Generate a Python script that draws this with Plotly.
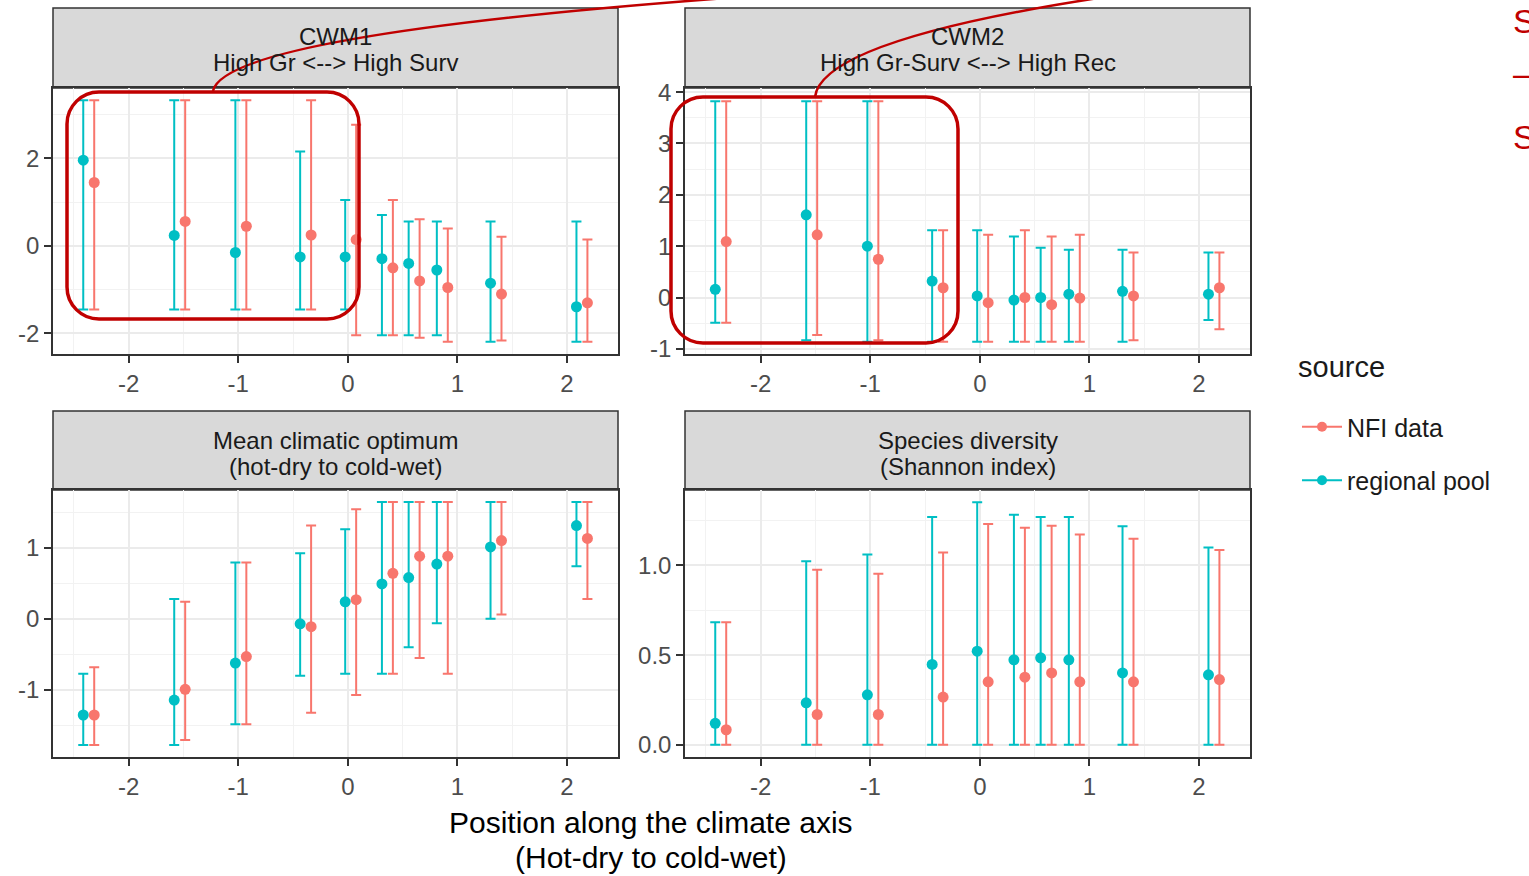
import plotly.graph_objects as go

W, H = 1529, 876

# ---------------- data ----------------
climate_pos = [-2.364, -1.534, -0.976, -0.385, 0.026, 0.361, 0.605, 0.862, 1.352, 2.136]
sources = ["NFI data", "regional pool"]

panel_titles = [
    ["CWM1", "High Gr &lt;--&gt; High Surv"],
    ["CWM2", "High Gr-Surv &lt;--&gt; High Rec"],
    ["Mean climatic optimum", "(hot-dry to cold-wet)"],
    ["Species diversity", "(Shannon index)"],
]

x_tickvals = [-2, -1, 0, 1, 2]
x_ticktext = ["-2", "-1", "0", "1", "2"]

# CWM1
cwm1_reg_mean = [1.96, 0.24, -0.15, -0.25, -0.25, -0.29, -0.40, -0.55, -0.85, -1.39]
cwm1_reg_lo = [-1.45, -1.45, -1.45, -1.45, -1.45, -2.04, -2.04, -2.04, -2.19, -2.19]
cwm1_reg_hi = [3.33, 3.33, 3.33, 2.16, 1.05, 0.71, 0.56, 0.56, 0.56, 0.56]
cwm1_nfi_mean = [1.45, 0.56, 0.45, 0.25, 0.145, -0.50, -0.80, -0.95, -1.10, -1.30]
cwm1_nfi_lo = [-1.45, -1.45, -1.45, -1.45, -2.04, -2.04, -2.10, -2.19, -2.16, -2.19]
cwm1_nfi_hi = [3.33, 3.33, 3.33, 3.33, 2.77, 1.05, 0.61, 0.40, 0.21, 0.15]
cwm1_ticks = [-2, 0, 2]
cwm1_ticktext = ["-2", "0", "2"]

# CWM2
cwm2_reg_mean = [0.16, 1.61, 1.00, 0.32, 0.03, -0.05, 0.00, 0.065, 0.12, 0.065]
cwm2_reg_lo = [-0.49, -0.83, -0.86, -0.86, -0.86, -0.86, -0.86, -0.86, -0.86, -0.44]
cwm2_reg_hi = [3.82, 3.82, 3.82, 1.31, 1.31, 1.19, 0.97, 0.93, 0.93, 0.875]
cwm2_nfi_mean = [1.09, 1.22, 0.745, 0.19, -0.10, 0.0, -0.14, -0.01, 0.03, 0.19]
cwm2_nfi_lo = [-0.49, -0.73, -0.83, -0.86, -0.86, -0.86, -0.86, -0.86, -0.83, -0.62]
cwm2_nfi_hi = [3.82, 3.82, 3.82, 1.31, 1.22, 1.31, 1.19, 1.22, 0.875, 0.875]
cwm2_ticks = [-1, 0, 1, 2, 3, 4]
cwm2_ticktext = ["-1", "0", "1", "2", "3", "4"]

# Mean climatic optimum
opt_reg_mean = [-1.35, -1.14, -0.62, -0.07, 0.24, 0.49, 0.58, 0.77, 1.01, 1.31]
opt_reg_lo = [-1.77, -1.77, -1.48, -0.80, -0.77, -0.77, -0.40, -0.06, 0.0, 0.74]
opt_reg_hi = [-0.77, 0.28, 0.79, 0.92, 1.26, 1.64, 1.64, 1.64, 1.64, 1.64]
opt_nfi_mean = [-1.35, -0.99, -0.53, -0.11, 0.27, 0.64, 0.88, 0.88, 1.10, 1.13]
opt_nfi_lo = [-1.77, -1.70, -1.48, -1.32, -1.07, -0.77, -0.55, -0.77, 0.06, 0.28]
opt_nfi_hi = [-0.68, 0.24, 0.79, 1.31, 1.54, 1.64, 1.64, 1.64, 1.64, 1.64]
opt_ticks = [-1, 0, 1]
opt_ticktext = ["-1", "0", "1"]

# Species diversity
div_reg_mean = [0.12, 0.234, 0.279, 0.448, 0.522, 0.474, 0.485, 0.474, 0.401, 0.39]
div_reg_lo = [0.0] * 10
div_reg_hi = [0.684, 1.024, 1.061, 1.27, 1.353, 1.283, 1.27, 1.27, 1.219, 1.10]
div_nfi_mean = [0.084, 0.169, 0.169, 0.266, 0.351, 0.377, 0.401, 0.351, 0.351, 0.364]
div_nfi_lo = [0.0] * 10
div_nfi_hi = [0.684, 0.976, 0.954, 1.072, 1.232, 1.21, 1.221, 1.173, 1.149, 1.087]
div_ticks = [0.0, 0.5, 1.0]
div_ticktext = ["0.0", "0.5", "1.0"]

x_axis_title = ["Position along the climate axis", "(Hot-dry to cold-wet)"]
legend_title = "source"
side_notes = ["S", "\u2013", "S"]

# ---------------- style ----------------
NFI_COLOR = "#F8766D"
REG_COLOR = "#00BFC4"
RED = "#C00000"
DODGE = 0.05
FONT = "Liberation Sans, Arial, sans-serif"
TICK_SIZE = 24
STRIP_SIZE = 24


def pxx(x):
    return x / W


def pxy(y):
    return 1 - y / H


panels = [
    dict(title=panel_titles[0], xd=(53, 618), yd=(88, 354), strip=(8, 88), lines=(37, 63),
         yrange=[-2.47, 3.61], ticks=cwm1_ticks, ticktext=cwm1_ticktext, minor=[-1, 1, 3],
         reg=(cwm1_reg_mean, cwm1_reg_lo, cwm1_reg_hi), nfi=(cwm1_nfi_mean, cwm1_nfi_lo, cwm1_nfi_hi)),
    dict(title=panel_titles[1], xd=(685, 1250), yd=(88, 354), strip=(8, 88), lines=(37, 63),
         yrange=[-1.10, 4.08], ticks=cwm2_ticks, ticktext=cwm2_ticktext,
         minor=[-0.5, 0.5, 1.5, 2.5, 3.5],
         reg=(cwm2_reg_mean, cwm2_reg_lo, cwm2_reg_hi), nfi=(cwm2_nfi_mean, cwm2_nfi_lo, cwm2_nfi_hi)),
    dict(title=panel_titles[2], xd=(53, 618), yd=(490, 757), strip=(411, 490), lines=(440, 466),
         yrange=[-1.94, 1.81], ticks=opt_ticks, ticktext=opt_ticktext, minor=[-1.5, -0.5, 0.5, 1.5],
         reg=(opt_reg_mean, opt_reg_lo, opt_reg_hi), nfi=(opt_nfi_mean, opt_nfi_lo, opt_nfi_hi)),
    dict(title=panel_titles[3], xd=(685, 1250), yd=(490, 757), strip=(411, 490), lines=(440, 466),
         yrange=[-0.068, 1.421], ticks=div_ticks, ticktext=div_ticktext, minor=[0.25, 0.75, 1.25],
         reg=(div_reg_mean, div_reg_lo, div_reg_hi), nfi=(div_nfi_mean, div_nfi_lo, div_nfi_hi)),
]

fig = go.Figure()
layout = dict(
    width=W, height=H,
    margin=dict(l=0, r=0, t=0, b=0, pad=0),
    paper_bgcolor="white", plot_bgcolor="white",
    font=dict(family=FONT, color="#1A1A1A"),
    showlegend=True,
)

shapes = []
annotations = []

for i, p in enumerate(panels):
    n = "" if i == 0 else str(i + 1)
    xa, ya = "x" + n, "y" + n
    for src, (mean, lo, hi), color, off in [
        (sources[0], p["nfi"], NFI_COLOR, DODGE),
        (sources[1], p["reg"], REG_COLOR, -DODGE),
    ]:
        fig.add_trace(go.Scatter(
            x=[c + off for c in climate_pos], y=mean,
            mode="markers", name=src, showlegend=False,
            marker=dict(color=color, size=11),
            error_y=dict(type="data", symmetric=False,
                         array=[h - m for h, m in zip(hi, mean)],
                         arrayminus=[m - l for m, l in zip(mean, lo)],
                         color=color, thickness=2, width=5),
            xaxis=xa, yaxis=ya, cliponaxis=False,
        ))
    axis_common = dict(
        showline=True, mirror=True, linecolor="#333333", linewidth=1.5,
        ticks="outside", ticklen=7, tickwidth=1.5, tickcolor="#333333",
        tickfont=dict(size=TICK_SIZE, color="#4D4D4D", family=FONT),
        showgrid=True, gridcolor="#EBEBEB", gridwidth=2, zeroline=False,
        automargin=False, tickmode="array",
    )
    layout["xaxis" + n] = dict(
        axis_common, domain=[pxx(p["xd"][0]), pxx(p["xd"][1])], range=[-2.69, 2.465],
        tickvals=x_tickvals, ticktext=x_ticktext, anchor=ya,
        minor=dict(tickmode="array", tickvals=[-2.5, -1.5, -0.5, 0.5, 1.5],
                   showgrid=True, gridcolor="#F2F2F2", gridwidth=1, ticks=""),
    )
    layout["yaxis" + n] = dict(
        axis_common, domain=[pxy(p["yd"][1]), pxy(p["yd"][0])], range=p["yrange"],
        tickvals=p["ticks"], ticktext=p["ticktext"], anchor=xa,
        minor=dict(tickmode="array", tickvals=p["minor"],
                   showgrid=True, gridcolor="#F2F2F2", gridwidth=1, ticks=""),
    )
    # strip
    shapes.append(dict(type="rect", xref="paper", yref="paper",
                       x0=pxx(p["xd"][0]), x1=pxx(p["xd"][1]),
                       y0=pxy(p["strip"][1]), y1=pxy(p["strip"][0]),
                       fillcolor="#D9D9D9", line=dict(color="#333333", width=1.5), layer="below"))
    for line_text, yc in zip(p["title"], p["lines"]):
        annotations.append(dict(xref="paper", yref="paper",
                                x=pxx((p["xd"][0] + p["xd"][1]) / 2), y=pxy(yc),
                                text=line_text, showarrow=False, xanchor="center", yanchor="middle",
                                font=dict(size=STRIP_SIZE, color="#1A1A1A", family=FONT)))

# legend entries (line + point key)
for src, color in [(sources[0], NFI_COLOR), (sources[1], REG_COLOR)]:
    fig.add_trace(go.Scatter(x=[None], y=[None], mode="lines+markers", name=src,
                             legendgroup=src,
                             line=dict(color=color, width=2), marker=dict(color=color, size=10),
                             xaxis="x", yaxis="y"))

layout["legend"] = dict(
    x=pxx(1297), y=pxy(404), xanchor="left", yanchor="top",
    font=dict(size=25, color="#1A1A1A", family=FONT),
    itemwidth=40, tracegroupgap=18, bgcolor="rgba(0,0,0,0)",
)
annotations.append(dict(xref="paper", yref="paper", x=pxx(1296), y=pxy(367),
                        text=legend_title, showarrow=False, xanchor="left", yanchor="middle",
                        font=dict(size=29, color="#1A1A1A", family=FONT)))

# x-axis title
for line_text, yc in zip(x_axis_title, [822, 857]):
    annotations.append(dict(xref="paper", yref="paper", x=pxx(651), y=pxy(yc),
                            text=line_text, showarrow=False, xanchor="center", yanchor="middle",
                            font=dict(size=30, color="black", family=FONT)))


# red highlight boxes and connectors
def rounded_rect(x0, y0, x1, y1, r):
    k = 0.5523 * r
    pts = [
        ("M", [(x0 + r, y0)]),
        ("L", [(x1 - r, y0)]),
        ("C", [(x1 - r + k, y0), (x1, y0 + r - k), (x1, y0 + r)]),
        ("L", [(x1, y1 - r)]),
        ("C", [(x1, y1 - r + k), (x1 - r + k, y1), (x1 - r, y1)]),
        ("L", [(x0 + r, y1)]),
        ("C", [(x0 + r - k, y1), (x0, y1 - r + k), (x0, y1 - r)]),
        ("L", [(x0, y0 + r)]),
        ("C", [(x0, y0 + r - k), (x0 + r - k, y0), (x0 + r, y0)]),
    ]
    s = ""
    for cmd, ps in pts:
        s += cmd + " " + " ".join(f"{pxx(a):.5f},{pxy(b):.5f}" for a, b in ps) + " "
    return s + "Z"


def quad(p0, p1, p2):
    return (f"M {pxx(p0[0]):.5f},{pxy(p0[1]):.5f} "
            f"Q {pxx(p1[0]):.5f},{pxy(p1[1]):.5f} {pxx(p2[0]):.5f},{pxy(p2[1]):.5f}")


shapes.append(dict(type="path", xref="paper", yref="paper", path=rounded_rect(67, 92, 359, 319, 32),
                   line=dict(color=RED, width=3.5), layer="above"))
shapes.append(dict(type="path", xref="paper", yref="paper", path=rounded_rect(671, 97, 958, 343, 32),
                   line=dict(color=RED, width=3.5), layer="above"))
shapes.append(dict(type="path", xref="paper", yref="paper", path=quad((213, 91), (225, 35), (740, -3)),
                   line=dict(color=RED, width=2.5), layer="above"))
shapes.append(dict(type="path", xref="paper", yref="paper", path=quad((815, 97), (822, 40), (1105, -3)),
                   line=dict(color=RED, width=2.5), layer="above"))

for txt, yc in zip(side_notes, [21, 73, 137]):
    annotations.append(dict(xref="paper", yref="paper", x=pxx(1511), y=pxy(yc),
                            text=txt, showarrow=False, xanchor="left", yanchor="middle",
                            font=dict(size=34, color=RED, family=FONT)))

layout["shapes"] = shapes
layout["annotations"] = annotations
fig.update_layout(**layout)

fig.write_html("out.html")
